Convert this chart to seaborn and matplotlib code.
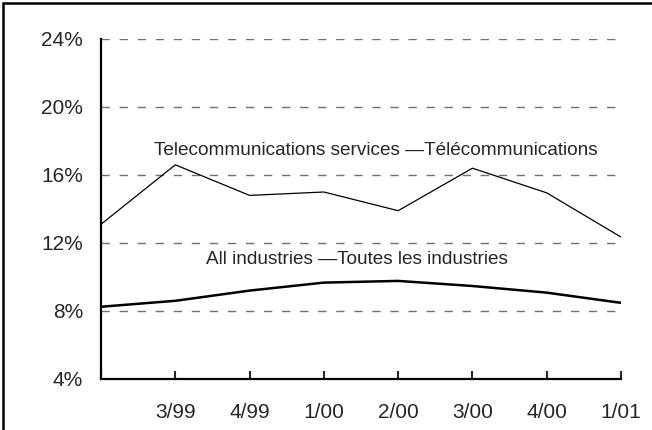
import numpy as np
import pandas as pd
import seaborn as sns
import matplotlib.pyplot as plt
from matplotlib.patches import Rectangle

quarters = ["2/99", "3/99", "4/99", "1/00", "2/00", "3/00", "4/00", "1/01"]
tick_labels = ["", "3/99", "4/99", "1/00", "2/00", "3/00", "4/00", "1/01"]
telecom = [13.1, 16.6, 14.8, 15.0, 13.9, 16.4, 14.95, 12.35]
all_ind = [8.25, 8.6, 9.2, 9.67, 9.77, 9.47, 9.08, 8.48]

df = pd.DataFrame({
    "pos": list(range(len(quarters))) * 2,
    "value": telecom + all_ind,
    "series": ["telecom"] * len(quarters) + ["all"] * len(quarters),
})

sns.set_style("white")
plt.rcParams["font.family"] = ["Liberation Sans", "DejaVu Sans"]

fig = plt.figure(figsize=(6.52, 4.30), dpi=100)
ax = fig.add_axes([101/652, 1-379/430, 520/652, 340/430])

#grid lines
for v in [8, 12, 16, 20, 24]:
    ax.axhline(v, color="#707070", lw=1.0, ls=(0, (6, 7)), zorder=1)

sns.lineplot(data=df[df.series == "telecom"], x="pos", y="value", color="black",
             lw=0.9, ax=ax, zorder=3)
sns.lineplot(data=df[df.series == "all"], x="pos", y="value", color="black",
             lw=1.8, ax=ax, zorder=3)

ax.set_xlim(0, 7)
ax.set_ylim(4, 24)
ax.set_xticks(range(len(quarters)))
ax.set_xticklabels(tick_labels)
ax.set_yticks([4, 8, 12, 16, 20, 24])
ax.set_yticklabels(["4%", "8%", "12%", "16%", "20%", "24%"])
ax.set_xlabel("")
ax.set_ylabel("")
ax.tick_params(axis="x", direction="in", length=6, width=1.5, pad=17, labelsize=15, bottom=True)
ax.tick_params(axis="y", length=0, pad=13, labelsize=15)
for s in ["top", "right"]:
    ax.spines[s].set_visible(False)
for s in ["left", "bottom"]:
    ax.spines[s].set_linewidth(1.6)
    ax.spines[s].set_color("black")

ax.text(3.70, 17.45, "Telecommunications services \u2014Télécommunications",
        ha="center", va="center", fontsize=13.7)
ax.text(3.45, 11.0, "All industries \u2014Toutes les industries",
        ha="center", va="center", fontsize=13.7)

#outer frame
fig.patches.append(Rectangle((3/652, -0.1), 1.2, 1-3/430+0.1, transform=fig.transFigure,
                             fill=False, ec="black", lw=1.8))

fig.savefig("out.png", dpi=100)
